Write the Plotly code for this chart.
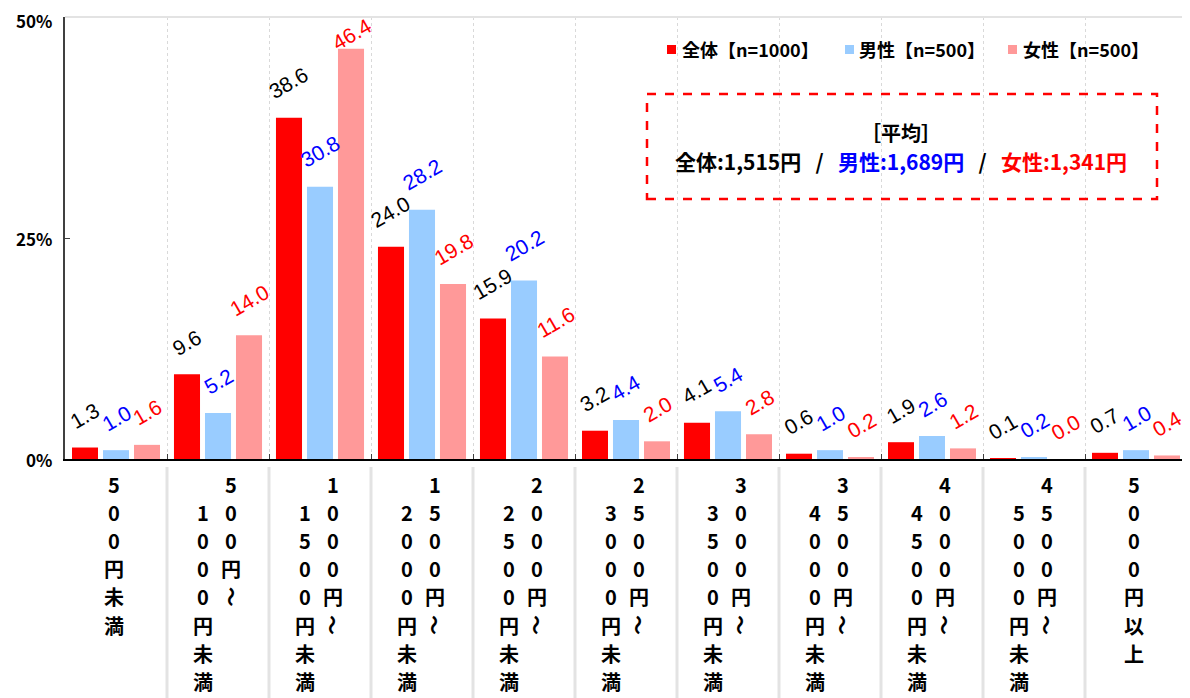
import plotly.graph_objects as go

# カテゴリ(金額帯)
categories = [
    "500円未満", "500円～1000円未満", "1000円～1500円未満", "1500円～2000円未満",
    "2000円～2500円未満", "2500円～3000円未満", "3000円～3500円未満",
    "3500円～4000円未満", "4000円～4500円未満", "4500円～5000円未満", "5000円以上",
]
series_names = ["全体【n=1000】", "男性【n=500】", "女性【n=500】"]
total_vals = [1.3, 9.6, 38.6, 24.0, 15.9, 3.2, 4.1, 0.6, 1.9, 0.1, 0.7]
male_vals = [1.0, 5.2, 30.8, 28.2, 20.2, 4.4, 5.4, 1.0, 2.6, 0.2, 1.0]
female_vals = [1.6, 14.0, 46.4, 19.8, 11.6, 2.0, 2.8, 0.2, 1.2, 0.0, 0.4]
y_tickvals = [0, 25, 50]
y_ticktext = ["0%", "25%", "50%"]
avg_labels = ["全体", "男性", "女性"]
avg_values = [1515, 1689, 1341]

bar_colors = ["#FF0000", "#99CCFF", "#FF9999"]
label_colors = ["#000000", "#0000FF", "#FF0000"]
JP = "Noto Sans CJK JP"

# ページ余白(body margin 8px)を差し引いた図のサイズ
OFF = 8
W, H = 1190 - OFF, 698 - OFF
L, R, T, B = 65 - OFF, 3, 17 - OFF, 239
PW, PH = W - L - R, H - T - B
PLOT_L, PLOT_B = 65, 459  # 画面上の描画領域の左端・下端
Y_MAX = 50
BARGAP = 0.088


def px_x(p):
    return (p - PLOT_L) / PW


def px_y(p):
    return (PLOT_B - p) / PH


fig = go.Figure()
all_vals = [total_vals, male_vals, female_vals]
xs = list(range(len(categories)))
for s, vals in enumerate(all_vals):
    fig.add_trace(go.Bar(
        x=xs, y=vals, name=series_names[s],
        marker=dict(color=bar_colors[s], line=dict(width=0)),
        showlegend=False, hoverinfo="y",
    ))

annotations = []
slot = (1 - BARGAP) / 3
unit_px = PH / Y_MAX
for s, vals in enumerate(all_vals):
    for i, v in enumerate(vals):
        yshift = min(12, (Y_MAX - v) * unit_px - 40)
        annotations.append(dict(
            x=i + (s - 1) * slot, y=v, xref="x", yref="y",
            text=f"{v:.1f}", showarrow=False, textangle=-30,
            xanchor="center", yanchor="bottom", yshift=yshift,
            font=dict(family="Liberation Sans, Arial", size=21, color=label_colors[s]),
        ))

# Y軸の目盛りラベル(上端で切れないよう注釈で配置)
for v, t in zip(y_tickvals, y_ticktext):
    annotations.append(dict(
        x=0, y=v, xref="paper", yref="y", text=t, showarrow=False,
        xanchor="right", yanchor="middle", xshift=-12, borderpad=0,
        yshift=-3 if v == Y_MAX else 0,
        font=dict(family=JP, size=17, color="#000000", weight="bold"),
    ))

# 縦書きのカテゴリラベル
ROW0, ROW_H = 25, 28.2
for i, cat in enumerate(categories):
    if "～" in cat:
        k = cat.index("～")
        cols = [(cat[:k + 1], 13, 0), (cat[k + 1:], -15, 1)]
    else:
        cols = [(cat, -2, 0)]
    for text, xs_, start in cols:
        for r, ch in enumerate(text):
            annotations.append(dict(
                x=i, y=0, xref="x", yref="paper", text=ch, showarrow=False,
                xshift=xs_, yshift=-(ROW0 + ROW_H * (start + r)),
                xanchor="center", yanchor="middle",
                textangle=90 if ch == "～" else 0,
                font=dict(family=JP, size=20, color="#000000", weight="bold"),
            ))

# 凡例(手動)
legend_pos = [(667, 680), (845, 857), (1008, 1021)]
shapes = []
for s, (sq, tx) in enumerate(legend_pos):
    shapes.append(dict(type="rect", xref="paper", yref="paper",
                       x0=px_x(sq), x1=px_x(sq + 9), y0=px_y(54), y1=px_y(45),
                       fillcolor=bar_colors[s], line=dict(width=0)))
    annotations.append(dict(
        x=px_x(tx), y=px_y(49), xref="paper", yref="paper", text=series_names[s],
        showarrow=False, xanchor="left", yanchor="middle",
        font=dict(family=JP, size=18, color="#000000", weight="bold"),
    ))

# 平均ボックス
shapes.append(dict(type="rect", xref="paper", yref="paper",
                   x0=px_x(647), x1=px_x(1157), y0=px_y(199), y1=px_y(94),
                   line=dict(color="#FF0000", width=2.5, dash="dash"),
                   fillcolor="rgba(0,0,0,0)"))
avg_parts = [
    f"<span style='color:{label_colors[s]}'>{avg_labels[s]}:{avg_values[s]:,}円</span>"
    for s in range(3)
]
sep = "\u00a0\u00a0\u00a0/\u00a0\u00a0\u00a0"
annotations.append(dict(
    x=px_x(901), y=px_y(133), xref="paper", yref="paper", text="［平均］",
    showarrow=False, xanchor="center", yanchor="middle", borderpad=0,
    font=dict(family=JP, size=20, color="#000000", weight="bold"),
))
annotations.append(dict(
    x=px_x(901), y=px_y(161), xref="paper", yref="paper",
    text=sep.join(avg_parts), showarrow=False, xanchor="center", yanchor="middle",
    borderpad=0,
    font=dict(family=JP, size=21, color="#000000", weight="bold"),
))

# 枠線と区切り線
shapes.append(dict(type="line", xref="paper", yref="paper", x0=0, x1=1, y0=1, y1=1,
                   line=dict(color="#E3E3E3", width=2)))
shapes.append(dict(type="line", xref="paper", yref="paper", x0=1, x1=1, y0=0, y1=1,
                   line=dict(color="#E3E3E3", width=2)))
for k in range(len(categories) - 1):
    shapes.append(dict(type="line", xref="x", yref="paper", x0=k + 0.5, x1=k + 0.5,
                       y0=-8 / PH, y1=-B / PH, line=dict(color="#E3E3E3", width=3)))

fig.update_layout(
    width=W, height=H,
    margin=dict(l=L, r=R, t=T, b=B, pad=0, autoexpand=False),
    barmode="group", bargap=BARGAP, bargroupgap=0.16,
    paper_bgcolor="white", plot_bgcolor="white",
    font=dict(family=JP, color="#000000"),
    xaxis=dict(
        range=[-0.5, len(categories) - 0.5], automargin=False,
        tickvals=[k + 0.5 for k in range(-1, len(categories))],
        ticktext=[""] * (len(categories) + 1),
        ticks="inside", ticklen=5, tickcolor="#404040",
        showgrid=True, gridcolor="#D9D9D9", griddash="dot", gridwidth=1,
        showline=True, linecolor="#000000", linewidth=1.5, zeroline=False,
    ),
    yaxis=dict(
        range=[0, Y_MAX], tickvals=y_tickvals, automargin=False,
        showticklabels=False,
        ticks="inside", ticklen=5, tickcolor="#404040",
        showgrid=False, showline=True, linecolor="#404040", linewidth=1.5,
        zeroline=False,
    ),
    annotations=annotations,
    shapes=shapes,
)

fig.write_html("out.html")
